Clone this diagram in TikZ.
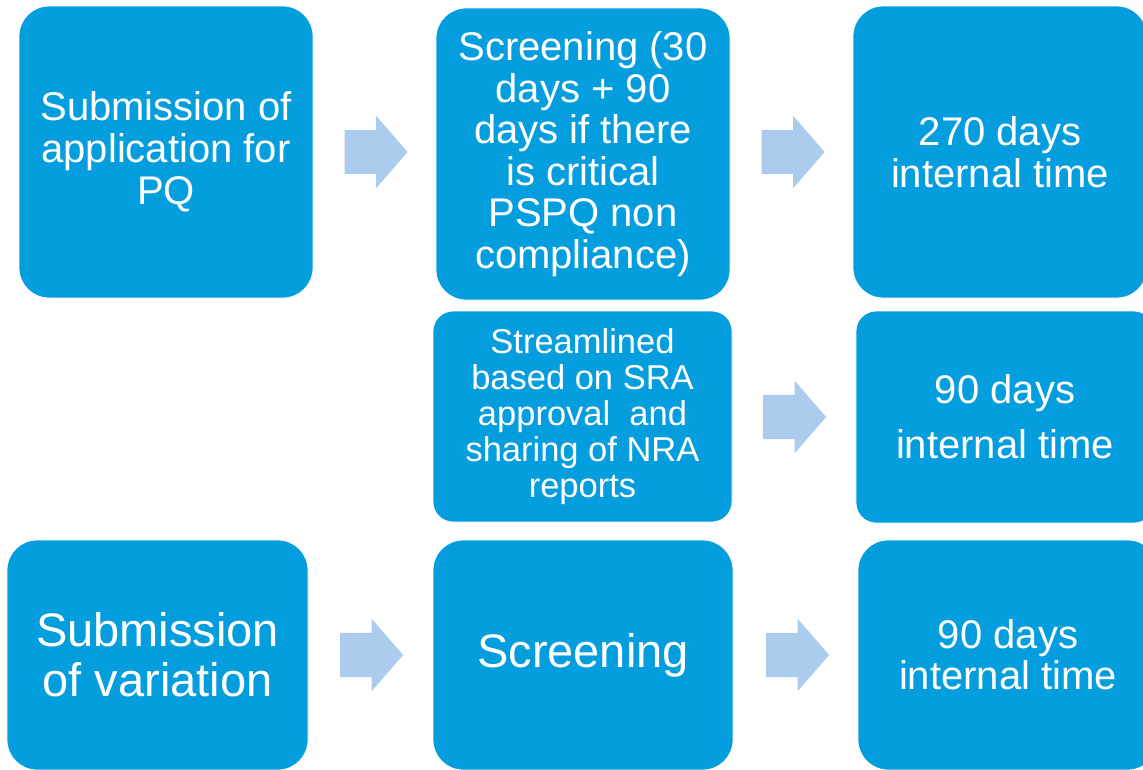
\documentclass[tikz,border=0pt]{standalone}
\usepackage{fontspec}
\setmainfont{Liberation Sans}
\usetikzlibrary{shapes.arrows}
\definecolor{boxblue}{HTML}{049EDE}
\definecolor{arrowblue}{HTML}{ABCCEC}

\begin{document}
\begin{tikzpicture}[x=1pt, y=-1pt,
    box/.style={rectangle, rounded corners=30pt, fill=boxblue, draw=white, line width=0.8pt, text=white, align=center, inner sep=0pt},
    arr/.style={single arrow, fill=arrowblue, draw=none, inner xsep=0pt, inner ysep=22pt, minimum height=63pt, single arrow head extend=14pt, single arrow tip angle=98},
    big/.style={font=\fontsize{40}{42}\selectfont},
    huge/.style={font=\fontsize{47}{50}\selectfont}]
    \useasboundingbox (0,0) rectangle (1143,769);
            % first row
            \node[box, big, minimum width=294pt, minimum height=292pt] (sub) at (166,152) {Submission of\\application for\\PQ};
            \node[box, font=\fontsize{40}{41.5}\selectfont, minimum width=294pt, minimum height=292pt] (scr) at (583,154) {Screening (30\\days + 90\\days if there\\is critical\\PSPQ non\\compliance)};
            \node[box, big, minimum width=294pt, minimum height=292pt] (int) at (1000,152) {270 days\\internal time};
            \node[arr] (a1) at (366.5,152) {};
            \node[arr] (a2) at (783.5,152) {};
            % second row
            \node[box, rounded corners=20pt, font=\fontsize{34.5}{36}\selectfont, minimum width=299pt, minimum height=211pt] (str) at (582.5,416.5) {Streamlined\\based on SRA\\approval~ and\\sharing of NRA\\reports};
            \node[box, rounded corners=20pt, font=\fontsize{40}{55}\selectfont, minimum width=298pt, minimum height=212pt] (int2) at (1005,417) {90 days\\internal time};
            \node[arr] (a3) at (785,417) {};
            % third row
            \node[box, huge, minimum width=301pt, minimum height=230pt] (var) at (157.5,655) {Submission\\of variation};
            \node[box, huge, minimum width=300pt, minimum height=230pt] (scr2) at (583,655) {Screening};
            \node[box, big, font=\fontsize{40}{41}\selectfont, minimum width=300pt, minimum height=230pt] (int3) at (1008,655) {90 days\\internal time};
            \node[arr] (a4) at (362,655) {};
            \node[arr] (a5) at (788,655) {};
        \end{tikzpicture}
\end{document}
